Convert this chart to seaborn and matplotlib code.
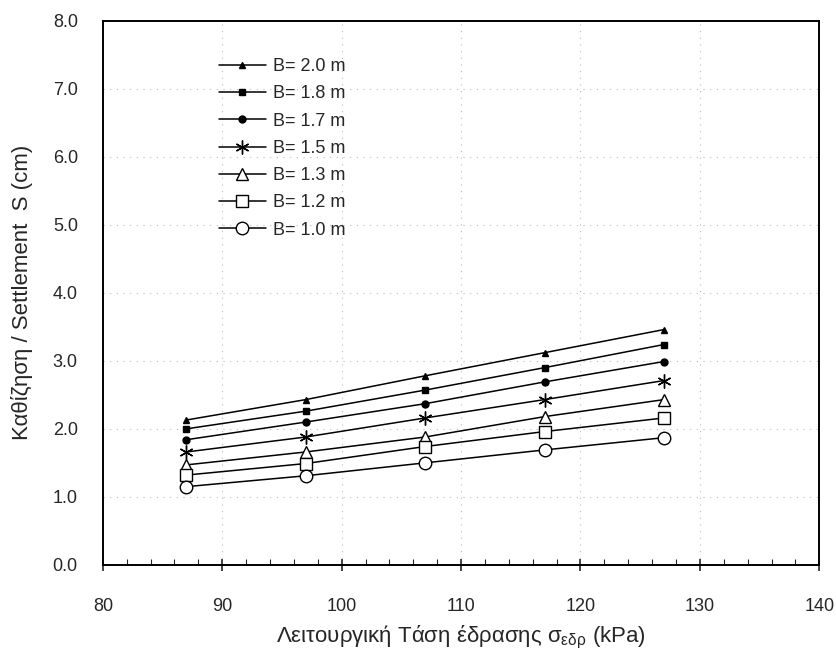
import numpy as np
import pandas as pd
import matplotlib
matplotlib.use("Agg")
import matplotlib.pyplot as plt
import seaborn as sns
from matplotlib.ticker import MultipleLocator, FormatStrFormatter

# ---- data ----
stress = [87, 97, 107, 117, 127]
widths = ["B= 2.0 m", "B= 1.8 m", "B= 1.7 m", "B= 1.5 m", "B= 1.3 m", "B= 1.2 m", "B= 1.0 m"]
s_b20 = [2.13, 2.43, 2.78, 3.12, 3.46]
s_b18 = [2.00, 2.26, 2.57, 2.90, 3.24]
s_b17 = [1.84, 2.10, 2.37, 2.69, 2.99]
s_b15 = [1.66, 1.88, 2.16, 2.43, 2.71]
s_b13 = [1.47, 1.66, 1.88, 2.18, 2.43]
s_b12 = [1.32, 1.49, 1.74, 1.96, 2.16]
s_b10 = [1.15, 1.31, 1.50, 1.69, 1.87]
series = [s_b20, s_b18, s_b17, s_b15, s_b13, s_b12, s_b10]
x_ticks = [80, 90, 100, 110, 120, 130, 140]
y_ticks = [0, 1, 2, 3, 4, 5, 6, 7, 8]

sns.set_style("white")
plt.rcParams["font.family"] = ["Liberation Sans", "DejaVu Sans"]
plt.rcParams["mathtext.fontset"] = "custom"
plt.rcParams["mathtext.rm"] = "Liberation Sans"

fig = plt.figure(figsize=(8.36, 6.5), dpi=100)
ax = fig.add_axes([0.123, 0.131, 0.857, 0.837])

markers = ["^", "s", "o", (6, 2, 0), "^", "s", "o"]
msizes = [4.5, 5, 5, 10, 9, 9, 9]
fills = ["black", "black", "black", "black", "white", "white", "white"]

for name, vals, mk, ms, fc in zip(widths, series, markers, msizes, fills):
    df = pd.DataFrame({"stress": stress, "S": vals})
    sns.lineplot(data=df, x="stress", y="S", ax=ax, color="black", linewidth=1.1,
                 marker=mk, markersize=ms, markerfacecolor=fc,
                 markeredgecolor="black", markeredgewidth=1.0, label=name)

handles = ax.lines[:7]
leg = ax.legend(handles, widths, loc="upper left", bbox_to_anchor=(0.152, 0.945),
                frameon=False, fontsize=13, handlelength=2.6, numpoints=1,
                labelspacing=0.57, handletextpad=0.4, borderaxespad=0)

ax.set_xlim(80, 140)
ax.set_ylim(0, 8)
ax.set_xticks(x_ticks)
ax.set_yticks(y_ticks)
ax.xaxis.set_minor_locator(MultipleLocator(2))
ax.yaxis.set_major_formatter(FormatStrFormatter("%.1f"))
ax.tick_params(axis="x", which="major", direction="inout", length=8, width=1.2,
               labelsize=13, pad=20, bottom=True)
ax.tick_params(axis="x", which="minor", direction="in", length=4, width=0.8, bottom=True)
ax.tick_params(axis="y", which="major", direction="in", length=0, labelsize=13, pad=18, left=True)

for sp in ax.spines.values():
    sp.set_color("black")
    sp.set_linewidth(1.4)

ax.grid(True, which="major", color="#bbbbbb", linestyle=(0, (1, 5)), linewidth=0.8)

ax.set_xlabel("Λειτουργική Τάση έδρασης σ$_{\\mathregular{εδρ}}$ (kPa)", fontsize=16, labelpad=6)
ax.set_ylabel("Καθίζηση / Settlement  S (cm)", fontsize=16, labelpad=14)

fig.savefig("out.png", dpi=100)
